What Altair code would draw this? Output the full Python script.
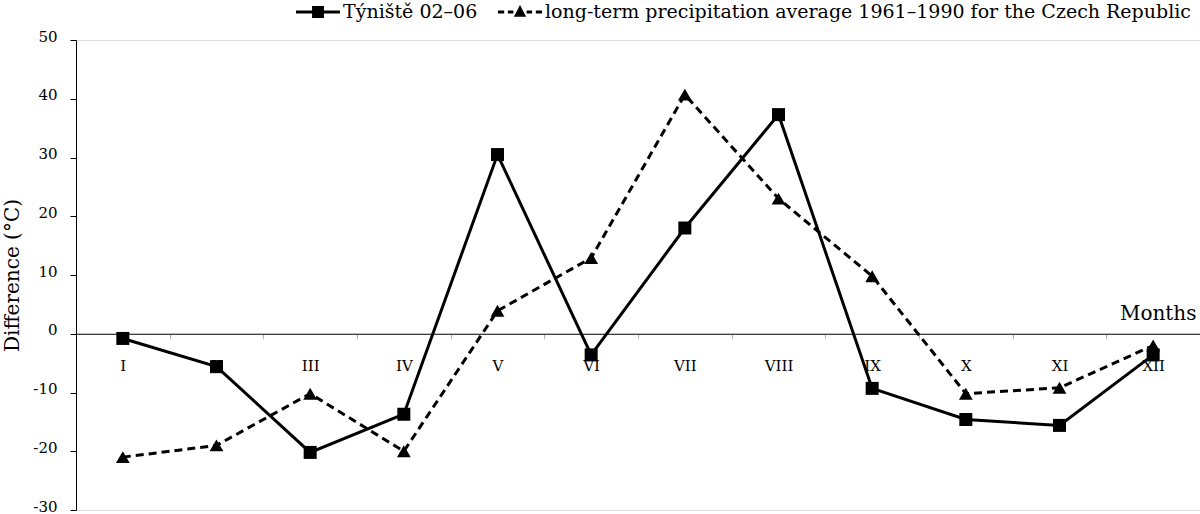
import altair as alt
import pandas as pd

months = ["I", "II", "III", "IV", "V", "VI", "VII", "VIII", "IX", "X", "XI", "XII"]
series = ["Týniště 02–06", "long-term precipitation average 1961–1990 for the Czech Republic"]
tyniste = [-0.8, -5.6, -20.2, -13.7, 30.5, -3.6, 18.0, 37.3, -9.3, -14.6, -15.6, -3.6]
longterm = [-21.0, -19.0, -10.2, -20.0, 3.9, 12.9, 40.7, 23.0, 9.8, -10.2, -9.2, -2.0]

rows = []
for m, a, b in zip(months, tyniste, longterm):
    rows.append({"month": m, "value": a, "series": series[0]})
    rows.append({"month": m, "value": b, "series": series[1]})
df = pd.DataFrame(rows)

FONT = "DejaVu Serif"
W, H = 1124, 470

x_enc = alt.X(
    "month:N",
    sort=months,
    bandPosition=0.5,
    scale=alt.Scale(type="band", domain=months, paddingInner=0, paddingOuter=0),
    axis=alt.Axis(
        title="Months",
        orient="bottom",
        offset=-H * 30 / 80,
        domainColor="black",
        domainWidth=1,
        tickBand="extent",
        tickColor="#b0b0b0",
        tickSize=5,
        labelAngle=0,
        labelFont=FONT,
        labelFontSize=15,
        labelColor="black",
        labelPadding=20,
        titleFont=FONT,
        titleFontSize=20,
        titleFontWeight="normal",
        titleColor="black",
        titleAnchor="end",
        titleAlign="right",
        titleBaseline="alphabetic",
        titleX=W - 4,
        titleY=-14,
        grid=False,
    ),
)
y_enc = alt.Y(
    "value:Q",
    scale=alt.Scale(domain=[-30, 50], nice=False, zero=False),
    axis=alt.Axis(
        title="Difference (°C)",
        values=list(range(-30, 51, 10)),
        labelExpr="'' + datum.value",
        domainColor="black",
        domainWidth=1,
        tickColor="black",
        tickSize=6,
        labelFont=FONT,
        labelFontSize=15,
        labelColor="black",
        labelPadding=13,
        labelOffset=-4,
        titleFont=FONT,
        titleFontSize=20,
        titleFontWeight="normal",
        titleColor="black",
        titlePadding=10,
        grid=False,
    ),
)

base = alt.Chart(df).encode(x=x_enc, y=y_enc)

solid_line = base.transform_filter(alt.datum.series == series[0]).mark_line(
    color="black", strokeWidth=3
)
dashed_line = base.transform_filter(alt.datum.series == series[1]).mark_line(
    color="black", strokeWidth=3, strokeDash=[8, 5]
)

squares = base.transform_filter(alt.datum.series == series[0]).mark_point(
    shape="square", filled=True, color="black", opacity=1, size=169
)
triangles = base.transform_filter(alt.datum.series == series[1]).mark_point(
    shape="triangle-up", filled=True, color="black", opacity=1, size=190
)

solid_sym = "M-1,-0.07H1V0.07H-1Z M-0.27,-0.27H0.27V0.27H-0.27Z"
dash_sym = ("M-1,-0.07H-0.72V0.07H-1Z M-0.55,-0.07H-0.3V0.07H-0.55Z "
            "M0,-0.32L0.28,0.22L-0.28,0.22Z "
            "M0.3,-0.07H0.55V0.07H0.3Z M0.72,-0.07H1V0.07H0.72Z")

legend_layer = base.mark_point(
    filled=True, color="black", opacity=0, size=1936
).encode(
    shape=alt.Shape(
        "series:N",
        scale=alt.Scale(domain=series, range=[solid_sym, dash_sym]),
        legend=alt.Legend(
            title=None,
            orient="none",
            direction="horizontal",
            legendX=220,
            legendY=-50,
            padding=0,
            symbolSize=1936,
            symbolFillColor="black",
            symbolStrokeColor="black",
            symbolStrokeWidth=0,
            symbolOpacity=1,
            labelFont=FONT,
            labelFontSize=19,
            labelColor="black",
            labelOffset=3,
            labelLimit=1000,
            columnPadding=20,
        ),
    )
)

chart = (
    alt.layer(solid_line, dashed_line, squares, triangles, legend_layer)
    .properties(
        width=W,
        height=H,
        autosize=alt.AutoSizeParams(type="none"),
        padding={"left": 76, "top": 40, "right": 0, "bottom": 4},
        background="white",
    )
    .configure_view(stroke=None)
    .configure_legend(labelFont=FONT, labelFontSize=19, labelColor="black")
    .configure(font=FONT)
)

chart.save("out.html", embed_options={"renderer": "svg", "actions": False})
